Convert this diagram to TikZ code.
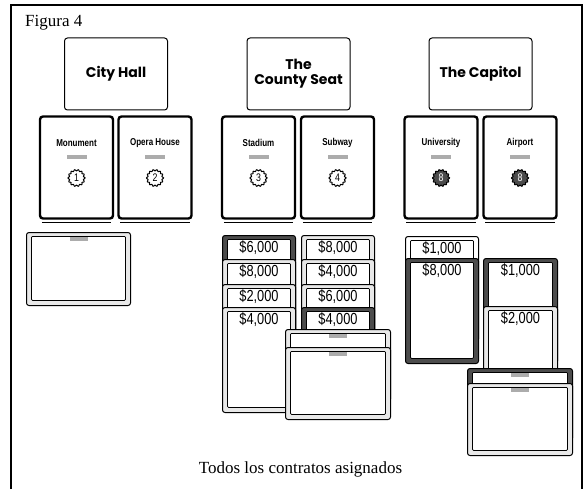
\documentclass[tikz,border=0pt]{standalone}
\usepackage{fontspec}
\setmainfont{Liberation Serif}
\newfontfamily\hdfont{Poppins}
\newfontfamily\valfont{Liberation Sans}[FakeStretch=0.8]
\newfontfamily\deedfont{Liberation Sans}[FakeStretch=0.8]
\usetikzlibrary{positioning}

\tikzset{
  header/.style={draw, line width=1pt, rounded corners=3pt, minimum width=103, minimum height=72,
    inner sep=0pt, align=center, font=\hdfont\bfseries\fontsize{14}{15}\selectfont},
  deedcard/.style={draw, line width=2.4pt, rounded corners=3pt, minimum width=73, minimum height=102,
    inner sep=0pt, fill=white},
  deedname/.style={inner sep=0pt, font=\deedfont\bfseries\fontsize{10}{10}\selectfont},
  pricebar/.style={fill=gray!65, inner sep=0pt, minimum width=20, minimum height=4},
  badge/.style={line width=1pt},
  contract/.style={draw, line width=1pt, rounded corners=2.5pt, inner sep=0pt},
  contractin/.style={draw, line width=.8pt, fill=white, rounded corners=1pt, inner sep=0pt},
  valtext/.style={inner sep=1pt, font=\valfont\fontsize{16}{16}\selectfont}
}

% portrait contract card: name, x, y top, width, height, frame fill, value
\newcommand{\contract}[7]{%
  \node (#1) [contract, fill=#6, minimum width=#4, minimum height=#5, anchor=north west] at (#2,#3) {};
  \node (#1-in) [contractin, minimum width=#4-10, minimum height=#5-9, anchor=north] at ([yshift=-4pt]#1.north) {};
  \node (#1-val) [valtext, anchor=north] at (#1-in.north) {#7};
}
% landscape contract card with the small grey print on top
\newcommand{\lcontract}[6]{%
  \node (#1) [contract, fill=#6, minimum width=#4, minimum height=#5, anchor=north west] at (#2,#3) {};
  \node (#1-in) [contractin, minimum width=#4-10, minimum height=#5-9, anchor=north] at ([yshift=-4pt]#1.north) {};
  \node (#1-val) [pricebar, minimum width=18, anchor=north] at ([yshift=-1pt]#1-in.north) {};
}

\begin{document}
\begin{tikzpicture}[x=1pt,y=-1pt]
  \useasboundingbox (0,0) rectangle (585,489);
  % page frame, open at the bottom
  \draw[line width=1.2pt] (11,489) -- (11,5) -- (582,5) -- (582,489);
  \node (title) [anchor=base west, inner sep=0pt, font=\fontsize{17}{17}\selectfont] at (25,27) {Figura 4};

  % buildings
  \node (cityhall) [header] at (116,74) {City Hall};
  \node (county)   [header] at (298.5,74) {The\\County Seat};
  \node (capitol)  [header] at (480.5,74) {The Capitol};

  % title deeds
  \foreach \cx/\nm/\lbl/\num/\bfill/\ncol in {76.5/monument/Monument/1/white/black,
      155/opera/Opera House/2/white/black, 258.5/stadium/Stadium/3/white/black,
      337.5/subway/Subway/4/white/black, 441/university/University/8/black!70/white,
      520/airport/Airport/8/black!70/white}{
    \node (\nm) [deedcard] at (\cx,167.5) {};
    \draw[line width=.8pt] ([shift={(3pt,-2.6pt)}]\nm.south west) -- ([shift={(-3pt,-2.6pt)}]\nm.south east);
    \node (\nm-name) [deedname] at (\cx,143) {\lbl};
    \node (\nm-price) [pricebar] at (\cx,157) {};
    \draw[badge, fill=\bfill] plot[domain=0:360, samples=109]
      ({\cx+(7.8+0.7*cos(14*\x))*cos(\x)}, {178+(7.8+0.7*cos(14*\x))*sin(\x)}) -- cycle;
    \node (\nm-num) [inner sep=0pt, text=\ncol, font=\deedfont\fontsize{11}{11}\selectfont] at (\cx,178) {\num};
  }

  % contracts: City Hall
  \lcontract{ch1}{26}{232}{104}{73}{gray!18}
  % contracts: Stadium
  \contract{st1}{222}{235}{73}{105}{black!70}{\$6,000}
  \contract{st2}{222}{259}{73}{105}{gray!18}{\$8,000}
  \contract{st3}{222}{284}{73}{105}{gray!18}{\$2,000}
  \contract{st4}{222}{307}{73}{105}{gray!18}{\$4,000}
  % contracts: Subway
  \contract{sb1}{301}{235}{73}{105}{gray!18}{\$8,000}
  \contract{sb2}{301}{259}{73}{105}{gray!18}{\$4,000}
  \contract{sb3}{301}{284}{73}{105}{gray!18}{\$6,000}
  \contract{sb4}{301}{307}{73}{105}{black!70}{\$4,000}
  \lcontract{cs1}{285}{329}{105}{72}{gray!18}
  \lcontract{cs2}{285}{347}{105}{72}{gray!18}
  % contracts: University
  \contract{un1}{405}{236}{73}{105}{white}{\$1,000}
  \contract{un2}{405}{258}{73}{105}{black!70}{\$8,000}
  % contracts: Airport
  \contract{ap1}{483}{258}{74}{105}{black!70}{\$1,000}
  \contract{ap2}{483}{306}{74}{105}{gray!18}{\$2,000}
  \lcontract{ca1}{467}{368}{105}{72}{black!70}
  \lcontract{ca2}{467}{383}{105}{72}{gray!18}

  \node (caption) [anchor=base, inner sep=0pt, font=\fontsize{17}{17}\selectfont] at (300.5,473) {Todos los contratos asignados};
\end{tikzpicture}
\end{document}
